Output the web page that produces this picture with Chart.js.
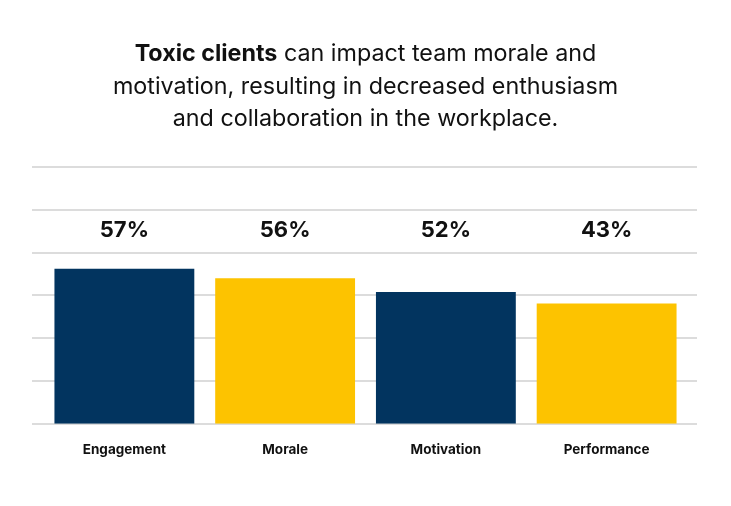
<!DOCTYPE html>
<html>
<head>
<meta charset="utf-8">
<script src="https://cdn.jsdelivr.net/npm/chart.js@4.4.1/dist/chart.umd.min.js"></script>
<style>
  html, body { margin: 0; padding: 0; background: #ffffff; }
  #wrap { position: relative; width: 731px; height: 506px; overflow: hidden; }
  #title {
    position: absolute; left: 0; top: 37px; width: 731px;
    text-align: center; font-family: Inter, "Open Sans", sans-serif;
    font-size: 23.3px; line-height: 32.5px; color: #111111; font-weight: 400;
  }
  #title b { font-weight: 700; }
  canvas { position: absolute; left: 0; top: 0; }
</style>
</head>
<body>
<div id="wrap">
  <canvas id="c" width="731" height="506"></canvas>
  <div id="title"><b>Toxic clients</b> can impact team morale and<br>motivation, resulting in decreased enthusiasm<br>and collaboration in the workplace.</div>
</div>
<script>
const categories = ["Engagement", "Morale", "Motivation", "Performance"];
const barValues = [36.2, 34.0, 30.8, 28.1];
const percentLabels = ["57%", "56%", "52%", "43%"];
const barColors = ["#02345F", "#FDC300", "#02345F", "#FDC300"];
const yTicks = [0, 10, 20, 30, 40, 50, 60];

const gridPlugin = {
  id: 'fullGrid',
  beforeDatasetsDraw(chart) {
    const ctx = chart.ctx;
    const y = chart.scales.y;
    ctx.save();
    ctx.strokeStyle = '#dcdcdc';
    ctx.lineWidth = 2;
    yTicks.forEach(v => {
      const py = Math.round(y.getPixelForValue(v));
      ctx.beginPath();
      ctx.moveTo(32, py);
      ctx.lineTo(697, py);
      ctx.stroke();
    });
    ctx.restore();
  }
};

const labelPlugin = {
  id: 'pctLabels',
  afterDatasetsDraw(chart) {
    const ctx = chart.ctx;
    const meta = chart.getDatasetMeta(0);
    const top = chart.chartArea.top;
    ctx.save();
    ctx.fillStyle = '#111111';
    ctx.font = '700 22px Inter, "Open Sans", sans-serif';
    ctx.textAlign = 'center';
    ctx.textBaseline = 'middle';
    meta.data.forEach((bar, i) => {
      ctx.fillText(percentLabels[i], bar.x, top + 63);
    });
    ctx.restore();
  }
};

new Chart(document.getElementById('c'), {
  type: 'bar',
  data: {
    labels: categories,
    datasets: [{
      data: barValues,
      backgroundColor: barColors,
      borderWidth: 0,
      barPercentage: 0.87,
      categoryPercentage: 1.0
    }]
  },
  options: {
    responsive: false,
    animation: false,
    devicePixelRatio: 1,
    layout: { padding: { top: 167, bottom: 38, left: 36, right: 44 } },
    plugins: { legend: { display: false }, tooltip: { enabled: false } },
    scales: {
      x: {
        offset: true,
        grid: { display: false },
        border: { display: false },
        ticks: {
          color: '#111111',
          padding: 10,
          font: { family: 'Inter, "Open Sans", sans-serif', size: 13.5, weight: '700' }
        }
      },
      y: {
        min: 0, max: 60,
        grid: { display: false },
        border: { display: false },
        ticks: { display: false, stepSize: 10 }
      }
    }
  },
  plugins: [gridPlugin, labelPlugin]
});
</script>
</body>
</html>
